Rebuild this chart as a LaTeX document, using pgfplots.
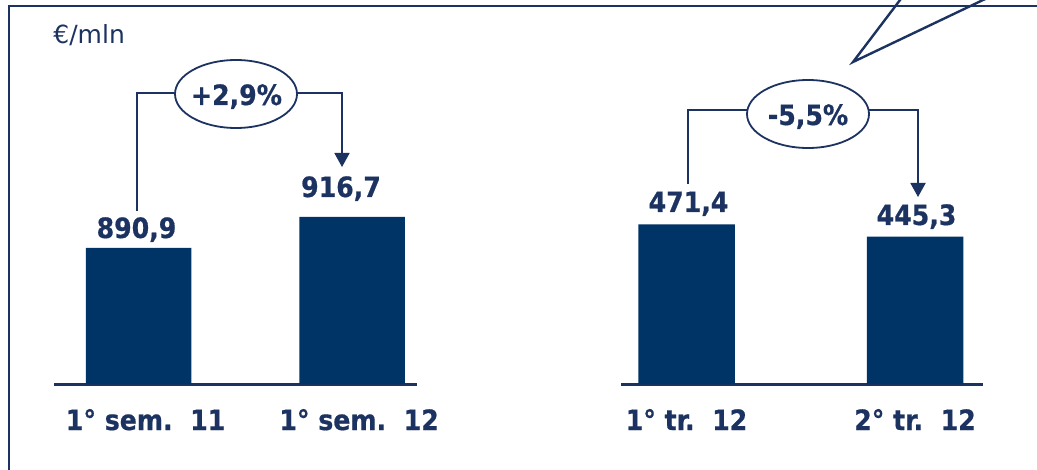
\documentclass[border=0pt]{standalone}
\usepackage{pgfplots}
\pgfplotsset{compat=1.18}
\usepackage{fontspec}
\setmainfont[BoldFeatures={FakeBold=0.6}]{DejaVu Sans Condensed}
\newfontfamily\regfont{DejaVu Sans}
\usetikzlibrary{arrows.meta}
\definecolor{navy}{HTML}{1C3260}
\definecolor{barc}{HTML}{003366}
\begin{document}
\begin{tikzpicture}
\useasboundingbox (0,0) rectangle (518.5pt,-235pt);
\pgfplotsset{
 mybar/.style={
  scale only axis, anchor=south west, height=100pt,
  axis y line=none, axis x line=bottom,
  axis line style={-, line width=1.5pt, draw=navy},
  every outer x axis line/.append style={-, line width=1.5pt, draw=navy},
  x axis line style={-, line width=1.5pt, draw=navy},
  ybar, bar shift=0pt,
  xtick={0,1}, major tick length=0pt,
  xticklabel style={anchor=base, yshift=-23pt, font=\fontsize{14}{16}\selectfont\bfseries, text=navy},
 }
}
\begin{axis}[mybar, at={(27pt,-192pt)}, width=181.5pt,
  xmin=-0.396, xmax=1.304, ymin=777.7, ymax=944.1, bar width=52.75pt,
  xticklabels={1° sem.\ \ 11, 1° sem.\ \ 12}, xticklabel style={xshift=3.5pt}]
\addplot[fill=barc, draw=none] coordinates {(0,890.9) (1,916.7)};
\end{axis}
\begin{axis}[mybar, at={(310.5pt,-192pt)}, width=181pt,
  xmin=-0.2866, xmax=1.2976, ymin=135.2, ymax=556.3, bar width=48.25pt,
  xticklabels={1° tr.\ \ 12, 2° tr.\ \ 12}]
\addplot[fill=barc, draw=none] coordinates {(0,471.4) (1,445.3)};
\end{axis}
\begin{scope}[x=0.5pt, y=-0.5pt]
 % frame
 \draw[navy, line width=1.2pt] (9,600) -- (9,6) -- (1100,6);
 % callout
 \draw[navy, line width=1.2pt, line join=miter] (907.6,-10) -- (853,62) -- (1004,-10);
 % left bracket
 \draw[navy, line width=0.9pt] (137,211) -- (137,93) -- (175,93);
 \draw[navy, line width=0.9pt, -{Triangle[length=7pt,width=7.5pt]}] (297,93) -- (342,93) -- (342,167);
 \draw[navy, line width=0.9pt, fill=white] (236,94) ellipse [x radius=30.5pt, y radius=17pt];
 \node[anchor=base, text=navy, font=\fontsize{14}{16}\selectfont\bfseries, inner sep=0pt] at (236.5,105) {+2,9\%};
 % right bracket
 \draw[navy, line width=0.9pt] (688,184) -- (688,110) -- (747,110);
 \draw[navy, line width=0.9pt, -{Triangle[length=7pt,width=7.5pt]}] (869,110) -- (918,110) -- (918,197);
 \draw[navy, line width=0.9pt, fill=white] (808,114) ellipse [x radius=30.5pt, y radius=17pt];
 \node[anchor=base, text=navy, font=\fontsize{14}{16}\selectfont\bfseries, inner sep=0pt] at (808,125) {-5,5\%};
 % value labels
 \node[anchor=base, text=navy, font=\fontsize{14}{16}\selectfont\bfseries, inner sep=0pt] at (136.5,238) {890,9};
 \node[anchor=base, text=navy, font=\fontsize{14}{16}\selectfont\bfseries, inner sep=0pt] at (341,197) {916,7};
 \node[anchor=base, text=navy, font=\fontsize{14}{16}\selectfont\bfseries, inner sep=0pt] at (688.5,212) {471,4};
 \node[anchor=base, text=navy, font=\fontsize{14}{16}\selectfont\bfseries, inner sep=0pt] at (916.5,225) {445,3};
 % unit
 \node[anchor=base west, text=navy, font=\regfont\fontsize{12.5}{14}\selectfont, inner sep=0pt] at (53,44) {€/mln};
\end{scope}
\end{tikzpicture}
\end{document}
